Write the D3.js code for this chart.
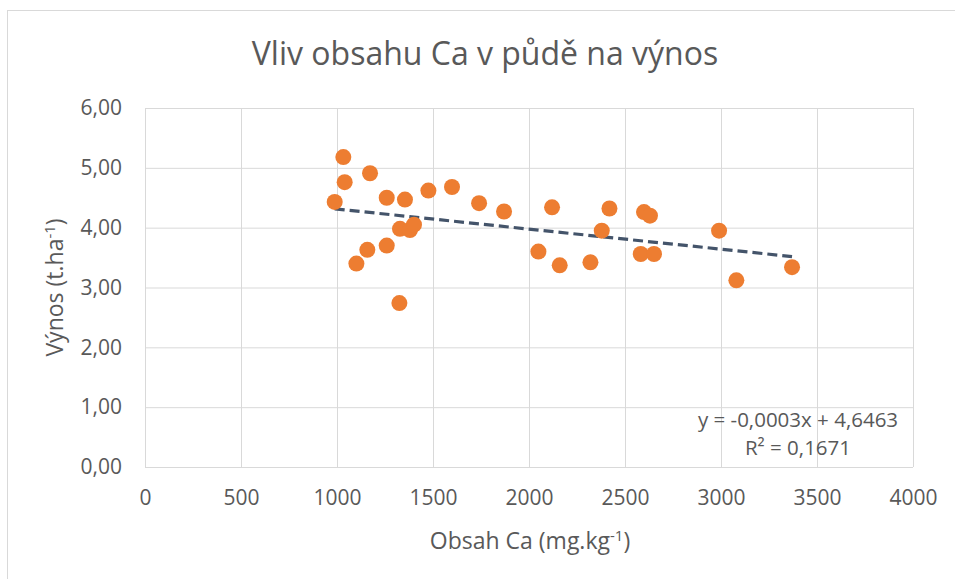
<!DOCTYPE html>
<html>
<head>
<meta charset="utf-8">
<script src="https://cdn.jsdelivr.net/npm/d3@7"></script>
<style>
  body { margin: 0; background: #fff; }
  text { font-family: "Open Sans", "Noto Sans", sans-serif; fill: #595959; }
</style>
</head>
<body>
<div id="chart"></div>
<script>
// obsah Ca (mg/kg) a vynos (t/ha)
var caValues = [988, 1033, 1040, 1101, 1158, 1172, 1259, 1259, 1325, 1328,
                1354, 1380, 1401, 1476, 1599, 1740, 1870, 2049, 2120, 2160,
                2320, 2379, 2419, 2582, 2599, 2630, 2651, 2990, 3080, 3370];
var yieldValues = [4.43, 5.18, 4.76, 3.40, 3.63, 4.91, 4.50, 3.70, 2.74, 3.98,
                   4.47, 3.96, 4.05, 4.62, 4.68, 4.41, 4.27, 3.60, 4.34, 3.37,
                   3.42, 3.95, 4.32, 3.56, 4.26, 4.20, 3.56, 3.95, 3.12, 3.34];
var xTicks = [0, 500, 1000, 1500, 2000, 2500, 3000, 3500, 4000];
var yTicks = [0, 1, 2, 3, 4, 5, 6];
var eqLabels = ['y = -0,0003x + 4,6463', 'R\u00b2 = 0,1671'];

var width = 955, height = 579;
// pozor: "top" je window.top, proto jine nazvy
var pLeft = 145, pRight = 913, pTop = 108, pBottom = 467;

var svg = d3.select('#chart').append('svg')
    .attr('width', width).attr('height', height);

svg.append('rect')
    .attr('x', 7.5).attr('y', 10.5)
    .attr('width', 1000).attr('height', 1000)
    .attr('fill', '#fff').attr('stroke', '#d9d9d9');

var x = d3.scaleLinear().domain([0, 4000]).range([pLeft, pRight]);
var y = d3.scaleLinear().domain([0, 6]).range([pBottom, pTop]);

var fmtY = function(d) { return d3.format('.2f')(d).replace('.', ','); };

// mrizka + popisky os
var gx = svg.append('g')
    .attr('transform', 'translate(0,' + pBottom + ')')
    .call(d3.axisBottom(x).tickValues(xTicks).tickSize(-(pBottom - pTop)).tickPadding(23).tickFormat(d3.format('d')));
var gy = svg.append('g')
    .attr('transform', 'translate(' + pLeft + ',0)')
    .call(d3.axisLeft(y).tickValues(yTicks).tickSize(-(pRight - pLeft)).tickPadding(23).tickFormat(fmtY));

[gx, gy].forEach(function(g) {
    g.select('.domain').remove();
    g.selectAll('line').attr('stroke', '#d9d9d9').attr('stroke-width', 1);
    g.selectAll('text').attr('fill', '#595959').style('font-size', '21px')
        .style('font-family', '"Open Sans", sans-serif');
});

// trendova cara - linearni regrese
var n = caValues.length;
var mx = d3.mean(caValues), my = d3.mean(yieldValues);
var sxy = 0, sxx = 0;
for (var i = 0; i < n; i++) {
    sxy += (caValues[i] - mx) * (yieldValues[i] - my);
    sxx += (caValues[i] - mx) * (caValues[i] - mx);
}
var slope = sxy / sxx, icpt = my - slope * mx;
var xr = d3.extent(caValues);

svg.append('line')
    .attr('x1', x(xr[0])).attr('y1', y(icpt + slope * xr[0]))
    .attr('x2', x(xr[1])).attr('y2', y(icpt + slope * xr[1]))
    .attr('stroke', '#44546a')
    .attr('stroke-width', 3.2)
    .attr('stroke-dasharray', '10,5');

svg.append('g').selectAll('circle')
    .data(caValues)
    .enter().append('circle')
    .attr('cx', function(d) { return x(d); })
    .attr('cy', function(d, i) { return y(yieldValues[i]); })
    .attr('r', 8)
    .attr('fill', '#ed7d31');

// rovnice
svg.selectAll('.eq')
    .data(eqLabels)
    .enter().append('text')
    .attr('class', 'eq')
    .attr('x', 798)
    .attr('y', function(d, i) { return 427 + i * 28; })
    .attr('text-anchor', 'middle')
    .style('font-size', '20.5px')
    .text(function(d) { return d; });

// titulek
svg.append('text')
    .attr('x', 485).attr('y', 65)
    .attr('text-anchor', 'middle')
    .style('font-size', '32px')
    .text('Vliv obsahu Ca v půdě na výnos');

var xt = svg.append('text')
    .attr('x', 530).attr('y', 549)
    .attr('text-anchor', 'middle')
    .style('font-size', '23px');
xt.append('tspan').text('Obsah Ca (mg.kg');
xt.append('tspan').attr('dy', -8).style('font-size', '15px').text('-1');
xt.append('tspan').attr('dy', 8).text(')');

var yt = svg.append('text')
    .attr('transform', 'translate(63,' + ((pTop + pBottom) / 2) + ') rotate(-90)')
    .attr('text-anchor', 'middle')
    .style('font-size', '23px');
yt.append('tspan').text('Výnos (t.ha');
yt.append('tspan').attr('dy', -8).style('font-size', '15px').text('-1');
yt.append('tspan').attr('dy', 8).text(')');
</script>
</body>
</html>
